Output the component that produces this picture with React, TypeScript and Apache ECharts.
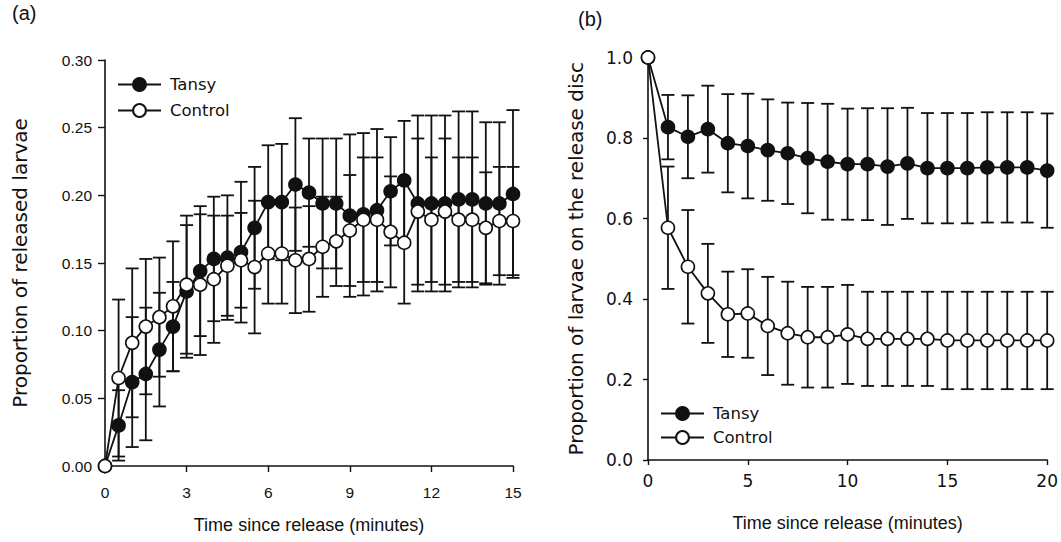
import React, { useEffect, useRef } from "react";
import * as echarts from "echarts";

// Panel (a): proportion of released larvae, sampled every half minute
const timeA = [0, 0.5, 1, 1.5, 2, 2.5, 3, 3.5, 4, 4.5, 5, 5.5, 6, 6.5, 7, 7.5, 8, 8.5, 9, 9.5, 10, 10.5, 11, 11.5, 12, 12.5, 13, 13.5, 14, 14.5, 15];
const tansyA = [0, 0.030, 0.062, 0.068, 0.086, 0.103, 0.129, 0.144, 0.153, 0.154, 0.158, 0.176, 0.195, 0.195, 0.208, 0.202, 0.194, 0.194, 0.185, 0.186, 0.189, 0.203, 0.211, 0.194, 0.194, 0.194, 0.197, 0.197, 0.194, 0.194, 0.201];
const tansyErrA = [0, 0.026, 0.048, 0.049, 0.042, 0.033, 0.049, 0.048, 0.046, 0.046, 0.052, 0.045, 0.042, 0.043, 0.049, 0.040, 0.048, 0.048, 0.060, 0.060, 0.060, 0.040, 0.044, 0.065, 0.065, 0.065, 0.065, 0.065, 0.060, 0.060, 0.062];
const controlA = [0, 0.065, 0.091, 0.103, 0.110, 0.118, 0.134, 0.134, 0.138, 0.148, 0.152, 0.147, 0.157, 0.157, 0.152, 0.153, 0.162, 0.166, 0.174, 0.182, 0.182, 0.173, 0.165, 0.188, 0.182, 0.188, 0.182, 0.182, 0.176, 0.181, 0.181];
const controlErrA = [0, 0.058, 0.055, 0.050, 0.044, 0.048, 0.051, 0.052, 0.047, 0.037, 0.035, 0.049, 0.037, 0.037, 0.039, 0.039, 0.037, 0.033, 0.041, 0.046, 0.046, 0.041, 0.045, 0.054, 0.046, 0.054, 0.046, 0.046, 0.041, 0.040, 0.040];

// Panel (b): proportion of larvae remaining on the release disc, every minute
const timeB = [0, 1, 2, 3, 4, 5, 6, 7, 8, 9, 10, 11, 12, 13, 14, 15, 16, 17, 18, 19, 20];
const tansyB = [1.0, 0.827, 0.803, 0.822, 0.787, 0.780, 0.770, 0.762, 0.750, 0.741, 0.735, 0.735, 0.729, 0.737, 0.725, 0.725, 0.725, 0.727, 0.727, 0.727, 0.719];
const tansyErrB = [0, 0.080, 0.103, 0.108, 0.122, 0.130, 0.126, 0.126, 0.137, 0.144, 0.138, 0.139, 0.145, 0.138, 0.137, 0.137, 0.137, 0.137, 0.137, 0.137, 0.142];
const controlB = [1.0, 0.577, 0.480, 0.414, 0.362, 0.364, 0.333, 0.315, 0.305, 0.305, 0.312, 0.301, 0.301, 0.301, 0.301, 0.297, 0.297, 0.297, 0.297, 0.297, 0.297];
const controlErrB = [0, 0.152, 0.141, 0.123, 0.106, 0.110, 0.122, 0.128, 0.125, 0.125, 0.123, 0.117, 0.117, 0.117, 0.117, 0.121, 0.121, 0.121, 0.121, 0.121, 0.121];

const xTitle = "Time since release (minutes)";
const yTitleA = "Proportion of released larvae";
const yTitleB = "Proportion of larvae on the release disc";

const INK = "#111";
const SANS = "'Liberation Sans', Arial, sans-serif";
const WIDE = "'DejaVu Sans', sans-serif";

const pairs = (t: number[], v: number[]) => t.map((x, i) => [x, v[i]]);
const bars = (t: number[], v: number[], e: number[]) =>
  t.map((x, i) => [x, v[i] - e[i], v[i] + e[i]]).filter((_, i) => e[i] > 0);

function errorSeries(data: number[][], axis: number, capHalf: number) {
  return {
    type: "custom",
    xAxisIndex: axis,
    yAxisIndex: axis,
    z: 1,
    silent: true,
    encode: { x: 0, y: [1, 2] },
    data,
    renderItem: (_p: any, api: any) => {
      const x = api.value(0);
      const top = api.coord([x, api.value(2)]);
      const bot = api.coord([x, api.value(1)]);
      const style = { stroke: INK, lineWidth: 1.8 };
      return {
        type: "group",
        children: [
          { type: "line", shape: { x1: top[0], y1: top[1], x2: bot[0], y2: bot[1] }, style },
          { type: "line", shape: { x1: top[0] - capHalf, y1: top[1], x2: top[0] + capHalf, y2: top[1] }, style },
          { type: "line", shape: { x1: bot[0] - capHalf, y1: bot[1], x2: bot[0] + capHalf, y2: bot[1] }, style },
        ],
      };
    },
  };
}

function lineSeries(name: string, data: number[][], axis: number, filled: boolean) {
  return {
    type: "line",
    name,
    xAxisIndex: axis,
    yAxisIndex: axis,
    z: filled ? 2 : 3,
    data,
    symbol: "circle",
    symbolSize: 13,
    showAllSymbol: true,
    lineStyle: { color: INK, width: 1.8 },
    itemStyle: { color: filled ? INK : "#fff", borderColor: INK, borderWidth: 1.6 },
  };
}

const axisLine = { show: true, lineStyle: { color: INK, width: 1.6 } };

export default function App() {
  const ref = useRef<HTMLDivElement>(null);

  useEffect(() => {
    if (!ref.current) return;
    const chart = echarts.init(ref.current, undefined, { renderer: "svg" });
    const legendBase = {
      orient: "vertical",
      padding: 0,
      itemWidth: 43,
      itemHeight: 16,
      textStyle: { fontFamily: WIDE, fontSize: 16.5, color: INK, padding: [0, 0, 0, 4] },
      data: ["Tansy", "Control"],
      selectedMode: false,
    };
    chart.setOption({
      animation: false,
      backgroundColor: "#fff",
      textStyle: { fontFamily: SANS },
      grid: [
        { left: 105, top: 60, width: 408, height: 406 },
        { left: 648, top: 57.5, width: 400, height: 402.5 },
      ],
      legend: [
        { ...legendBase, left: 117, top: 76, itemGap: 9 },
        { ...legendBase, left: 660, top: 405, itemGap: 7 },
      ],
      xAxis: [
        {
          gridIndex: 0,
          type: "value",
          min: 0,
          max: 15,
          interval: 3,
          axisLine,
          axisTick: { show: true, length: 6, lineStyle: { color: INK, width: 1.4 } },
          axisLabel: { color: INK, fontSize: 15.5, fontFamily: SANS, margin: 18 },
          splitLine: { show: false },
          name: xTitle,
          nameLocation: "middle",
          nameGap: 50,
          nameTextStyle: { color: INK, fontSize: 18, fontFamily: SANS },
        },
        {
          gridIndex: 1,
          type: "value",
          min: 0,
          max: 20,
          interval: 5,
          axisLine,
          axisTick: { show: true, length: 5, lineStyle: { color: INK, width: 1.4 } },
          axisLabel: { color: INK, fontSize: 17, fontFamily: WIDE, margin: 12 },
          splitLine: { show: false },
          name: xTitle,
          nameLocation: "middle",
          nameGap: 54,
          nameTextStyle: { color: INK, fontSize: 18, fontFamily: SANS },
        },
      ],
      yAxis: [
        {
          gridIndex: 0,
          type: "value",
          min: 0,
          max: 0.3,
          interval: 0.05,
          axisLine,
          axisTick: { show: true, length: 7, lineStyle: { color: INK, width: 1.4 } },
          axisLabel: { color: INK, fontSize: 15.5, fontFamily: SANS, margin: 13, formatter: (v: number) => v.toFixed(2) },
          splitLine: { show: false },
          name: yTitleA,
          nameLocation: "middle",
          nameGap: 75,
          nameTextStyle: { color: INK, fontSize: 20, fontFamily: WIDE },
        },
        {
          gridIndex: 1,
          type: "value",
          min: 0,
          max: 1,
          interval: 0.2,
          axisLine,
          axisTick: { show: true, length: 5, lineStyle: { color: INK, width: 1.4 } },
          axisLabel: { color: INK, fontSize: 17, fontFamily: WIDE, margin: 15, formatter: (v: number) => v.toFixed(1) },
          splitLine: { show: false },
          name: yTitleB,
          nameLocation: "middle",
          nameGap: 62,
          nameTextStyle: { color: INK, fontSize: 20, fontFamily: WIDE },
        },
      ],
      graphic: [
        { type: "text", left: 12, top: 3, style: { text: "(a)", fontSize: 20, fontFamily: SANS, fill: INK } },
        { type: "text", left: 578, top: 9, style: { text: "(b)", fontSize: 20, fontFamily: SANS, fill: INK } },
      ],
      series: [
        errorSeries(bars(timeA, tansyA, tansyErrA), 0, 6.5),
        errorSeries(bars(timeA, controlA, controlErrA), 0, 6.5),
        errorSeries(bars(timeB, tansyB, tansyErrB), 1, 6.5),
        errorSeries(bars(timeB, controlB, controlErrB), 1, 6.5),
        lineSeries("Tansy", pairs(timeA, tansyA), 0, true),
        lineSeries("Control", pairs(timeA, controlA), 0, false),
        lineSeries("Tansy", pairs(timeB, tansyB), 1, true),
        lineSeries("Control", pairs(timeB, controlB), 1, false),
      ],
    });
    return () => chart.dispose();
  }, []);

  return (
    <div
      ref={ref}
      style={{ position: "absolute", left: 0, top: 0, width: 1061, height: 542, background: "#fff" }}
    />
  );
}
